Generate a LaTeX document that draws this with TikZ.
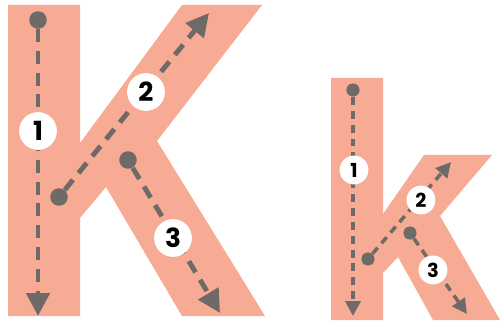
\documentclass[tikz,border=0pt]{standalone}
\usepackage{fontspec}
\setsansfont{Poppins}
\usetikzlibrary{arrows.meta}
\definecolor{Salmon}{HTML}{F7AB94}
\definecolor{Ink}{HTML}{6E6A68}

\begin{document}
\begin{tikzpicture}[x=0.02cm,y=-0.02cm,
    letter/.style={fill=Salmon},
    bigdot/.style={circle,fill=Ink,inner sep=0pt,minimum size=10pt},
    smalldot/.style={circle,fill=Ink,inner sep=0pt,minimum size=7.5pt},
    bigpath/.style={draw=Ink,line width=2.8pt,dash pattern=on 7.4pt off 5pt,-{Triangle[length=13pt,width=13pt]}},
    smallpath/.style={draw=Ink,line width=2pt,dash pattern=on 4.5pt off 3.4pt,-{Triangle[length=8.5pt,width=8.5pt]}},
    bignum/.style={circle,fill=white,inner sep=0pt,minimum size=21.5pt,font=\sffamily\bfseries\fontsize{15}{15}\selectfont},
    smallnum/.style={circle,fill=white,inner sep=0pt,minimum size=16.4pt,font=\sffamily\bfseries\fontsize{11}{11}\selectfont}]
  \useasboundingbox (0,0) rectangle (500,324);
  % capital K
  \fill[letter] (8,5) -- (80,5) -- (80,143) -- (182,5) -- (262,5) -- (157,141) -- (265,316)
    -- (182,316) -- (106,187) -- (80,218) -- (80,316) -- (8,316) -- cycle;
  % small k
  \fill[letter] (331,78) -- (383,78) -- (383,214) -- (424,155) -- (492,155) -- (440,216) -- (500,320)
    -- (433,320) -- (398,257) -- (383,273) -- (383,320) -- (331,320) -- cycle;
  % start dots and ends of the capital K
  \node[bigdot] (K1s) at (38,20) {};
  \node[bigdot] (K2s) at (59,197) {};
  \node[bigdot] (K3s) at (128,160) {};
  \coordinate (K1e) at (38,316);
  \coordinate (K2e) at (209,13);
  \coordinate (K3e) at (220,313);
  \draw[bigpath] (K1s) -- (K1e);
  \draw[bigpath] (K2s) -- (K2e);
  \draw[bigpath] (K3s) -- (K3e);
  \node[bignum] (K1n) at (38,131) {1};
  \node[bignum] (K2n) at (146,92) {2};
  \node[bignum] (K3n) at (173,238) {3};
  % start dots and ends of the small k
  \node[smalldot] (k1s) at (353,90) {};
  \node[smalldot] (k2s) at (368,259) {};
  \node[smalldot] (k3s) at (410,233) {};
  \coordinate (k1e) at (353,316);
  \coordinate (k2e) at (451,162);
  \coordinate (k3e) at (467,314);
  \draw[smallpath] (k1s) -- (k1e);
  \draw[smallpath] (k2s) -- (k2e);
  \draw[smallpath] (k3s) -- (k3e);
  \node[smallnum] (k1n) at (354,170) {1};
  \node[smallnum] (k2n) at (421,200) {2};
  \node[smallnum] (k3n) at (433,270) {3};
\end{tikzpicture}
\end{document}
